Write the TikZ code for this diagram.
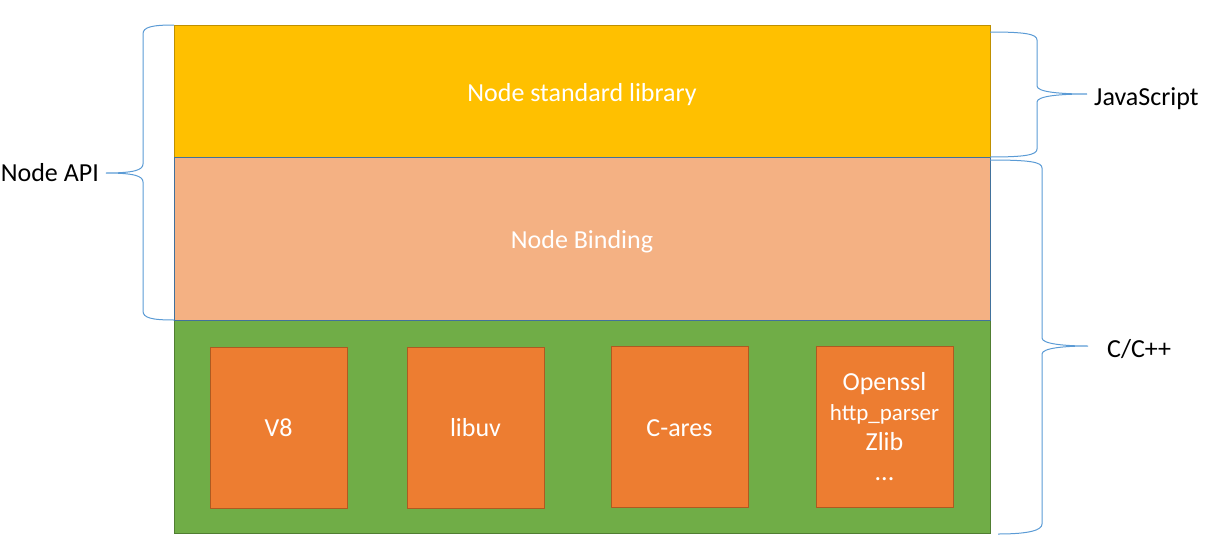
\documentclass[tikz,border=0pt]{standalone}
\usepackage{fontspec}
\setmainfont{Carlito}
\definecolor{jsfill}{HTML}{FFC000}
\definecolor{jsdraw}{HTML}{BF9000}
\definecolor{bindfill}{HTML}{F4B183}
\definecolor{binddraw}{HTML}{41719C}
\definecolor{depfill}{HTML}{70AD47}
\definecolor{depdraw}{HTML}{507E32}
\definecolor{libfill}{HTML}{ED7D31}
\definecolor{libdraw}{HTML}{AE5A21}
\definecolor{bracecol}{HTML}{5B9BD5}
\tikzset{
  layer/.style={draw, line width=1pt, outer sep=0pt, inner sep=0pt, anchor=north west,
    minimum width=816pt},
  boxtext/.style={inner sep=0pt, text=white, align=center, font=\fontsize{26}{30}\selectfont},
  libbox/.style={draw=libdraw, fill=libfill, line width=1pt, outer sep=0pt, inner sep=0pt,
    anchor=north west, minimum width=137pt, minimum height=161pt, text=white,
    align=center, font=\fontsize{26}{30}\selectfont},
  bracepath/.style={draw=bracecol, line width=1pt},
  sidelabel/.style={inner sep=0pt, font=\fontsize{26}{30}\selectfont, text=black}
}
\begin{document}
\begin{tikzpicture}[x=1pt,y=-1pt]
\useasboundingbox (0,0) rectangle (1210,554);
% layers
\node[layer, draw=depdraw, fill=depfill, minimum height=213pt] (dep) at (174,320) {};
\node[layer, draw=jsdraw, fill=jsfill, minimum height=132pt] (js) at (174,25) {};
\node[layer, draw=binddraw, fill=bindfill, minimum height=163pt] (bind) at (174,157) {};
\node[boxtext] (jstext) at ([yshift=-4pt]js.center) {Node standard library};
\node[boxtext] (bindtext) at ([yshift=-3pt]bind.center) {Node Binding};
% libraries
\node[libbox] (v8) at (210,347) {V8};
\node[libbox] (uv) at (407,347) {libuv};
\node[libbox] (cares) at (611,346) {};
\node[boxtext] (carestext) at ([yshift=-2pt]cares.center) {C-ares};
\node[libbox] (ssl) at (816,346) {Openssl\\{\fontsize{23}{30}\selectfont http\_parser}\\Zlib\\...};
% labels
\node[sidelabel, anchor=base east] (api) at (99,181) {Node API};
\node[sidelabel, anchor=base west] (jslab) at (1094,105) {JavaScript};
\node[sidelabel, anchor=base west] (clab) at (1107,357) {C/C++};
% left brace (Node API)
\coordinate (apitip) at (106,173);
\path[bracepath] (js.north west) .. controls (152,25) and (143,27) .. (143,34)
  -- (143,164) .. controls (143,170) and (134,173) .. (apitip)
  .. controls (134,173) and (143,176) .. (143,182)
  -- (143,311) .. controls (143,318) and (152,320) .. (bind.south west);
% right brace (JavaScript)
\coordinate (jstip) at (1087,94);
\path[bracepath] (990,32) .. controls (1025,32) and (1037,34) .. (1037,40)
  -- (1037,86) .. controls (1037,92) and (1060,94) .. (jstip)
  .. controls (1060,94) and (1037,96) .. (1037,102)
  -- (1037,149) .. controls (1037,155) and (1025,157) .. (js.south east);
% right brace (C/C++)
\coordinate (ctip) at (1088,346);
\path[bracepath] (bind.north east) ++(0,3) .. controls (1030,160) and (1042,162) .. (1042,168)
  -- (1042,338) .. controls (1042,344) and (1065,346) .. (ctip)
  .. controls (1065,346) and (1042,348) .. (1042,354)
  -- (1042,524) .. controls (1042,530) and (1030,534) .. (998,534);
\end{tikzpicture}
\end{document}
